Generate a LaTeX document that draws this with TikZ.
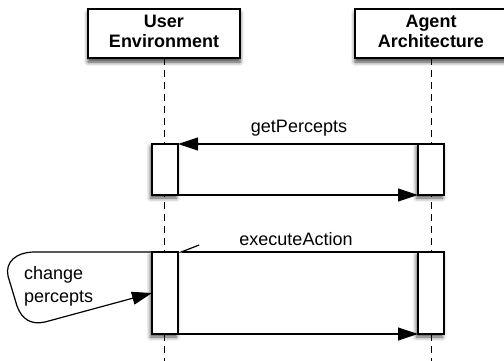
\documentclass[tikz,border=0pt]{standalone}
\usepackage{fontspec}
\setmainfont{Liberation Sans}
\usetikzlibrary{arrows.meta,shadows.blur,calc}
\begin{document}
\begin{tikzpicture}[x=1pt,y=-1pt,
  every node/.style={inner sep=0pt,outer sep=0pt},
  headbox/.style={draw,line width=1.2pt,fill=white,minimum width=152pt,minimum height=49pt,
    align=center,font=\fontsize{18}{20}\selectfont\bfseries,text depth=4pt,
    blur shadow={shadow xshift=0pt,shadow yshift=-4pt,shadow blur radius=4pt,shadow opacity=75}},
  actbox/.style={draw,line width=1.2pt,fill=white,minimum width=26pt,
    blur shadow={shadow xshift=-1.5pt,shadow yshift=-3pt,shadow blur radius=4pt,shadow opacity=70}},
  lifeline/.style={line width=1pt,dash pattern=on 7pt off 5pt},
  msg/.style={line width=1.2pt,-{Triangle[length=20pt,width=13pt]}},
  asyncmsg/.style={line width=1.2pt,-{Straight Barb[length=18pt,width=14pt,right]}},
  lbl/.style={font=\fontsize{18}{23}\selectfont}
]
\useasboundingbox (0,0) rectangle (504,361);

% lifeline ends at the bottom of the picture
\coordinate (ueEnd) at (164,361);
\coordinate (aaEnd) at (431,361);

% lifelines, drawn first so the boxes sit on top
\draw[lifeline] (164,58) -- (ueEnd);
\draw[lifeline] (431,58) -- (aaEnd);

% participant headers
\node[headbox] (ue) at (164,33.5) {User\\Environment};
\node[headbox] (aa) at (431,33.5) {Agent\\Architecture};

% activation bars
\node[actbox,minimum height=51pt] (a1) at (165,169.5) {};
\node[actbox,minimum height=51pt] (b1) at (431,169.5) {};
\node[actbox,minimum height=82pt] (a2) at (165,293) {};
\node[actbox,minimum height=82pt] (b2) at (431,293) {};

% getPercepts call and its return
\draw[msg] (b1.north west) -- (a1.north east);
\draw[msg] (a1.south east) -- (b1.south west);
\node[lbl,anchor=base] (gp) at (299,132) {getPercepts};

% executeAction call and its return
\draw[asyncmsg] (b2.north west) -- (a2.north east);
\draw[msg] (a2.south east) -- (b2.south west);
\node[lbl,anchor=base] (ea) at (296,245) {executeAction};

% callout pointing at the environment's activation
\draw[line width=1.2pt,-{Triangle[length=20pt,width=13pt]}]
  (a2.north west) -- (35,252)
  .. controls (16,252) and (5,262) .. (8,276)
  -- (17,306)
  .. controls (22,320) and (32,325) .. (45,322)
  -- (a2.west);
\node[lbl,anchor=north west,align=left] (cp) at (24,266) {change\\percepts};
\end{tikzpicture}
\end{document}
